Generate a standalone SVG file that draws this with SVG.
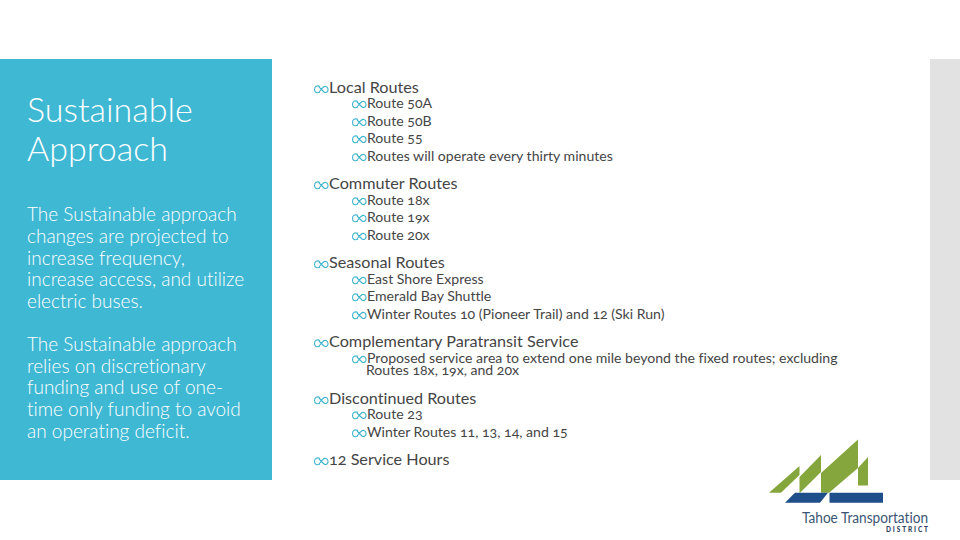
<svg xmlns="http://www.w3.org/2000/svg" width="960" height="540" viewBox="0 0 960 540">
<style>
text{font-family:"Lato","Open Sans","Liberation Sans",sans-serif;font-feature-settings:"onum";font-variant-ligatures:none}
.side{fill:#fff;font-size:19px;font-weight:300}
.title{fill:#fff;font-size:34px;font-weight:300}
.l1{fill:#454545;font-size:16.200px}
.l2{fill:#454545;font-size:14.100px}
.b{fill:none;stroke:#3fb4cf;stroke-width:1.100}
</style>
<defs><g id="bul"><path class="b" d="M6 1.500C3 0 .5 1.500.5 4.500S3 8.500 6 7M5 2L10 7C12 8.500 14.500 6.500 14 4C13.500 1.500 11 .5 9 2.500L5 7"/></g></defs>
<rect width="960" height="540" fill="#fff"/>
<rect id="panel" x="0" y="59" width="272" height="421" fill="#3fb8d4"/>
<rect id="edge" x="930" y="59" width="30" height="421" fill="#e2e2e2"/>
<g id="left">
<text class="title" x="27" y="122">Sustainable</text>
<text class="title" x="27" y="161">Approach</text>
<text class="side" x="27" y="221">The Sustainable approach</text>
<text class="side" x="27" y="243">changes are projected to</text>
<text class="side" x="27" y="265">increase frequency,</text>
<text class="side" x="27" y="286">increase access, and utilize</text>
<text class="side" x="27" y="308">electric buses.</text>
<text class="side" x="27" y="351">The Sustainable approach</text>
<text class="side" x="27" y="373">relies on discretionary</text>
<text class="side" x="27" y="394">funding and use of one-</text>
<text class="side" x="27" y="416">time only funding to avoid</text>
<text class="side" x="27" y="438">an operating deficit.</text>
</g>
<g id="list">
<use href="#bul" x="314" y="85"/><text class="l1" x="329" y="93">Local Routes</text>
<use href="#bul" x="352" y="100"/><text class="l2" x="367" y="108">Route 50A</text>
<use href="#bul" x="352" y="118"/><text class="l2" x="367" y="126">Route 50B</text>
<use href="#bul" x="352" y="135"/><text class="l2" x="367" y="143">Route 55</text>
<use href="#bul" x="352" y="153"/><text class="l2" x="367" y="161">Routes will operate every thirty minutes</text>
<use href="#bul" x="314" y="181"/><text class="l1" x="329" y="189">Commuter Routes</text>
<use href="#bul" x="352" y="197"/><text class="l2" x="367" y="205">Route 18x</text>
<use href="#bul" x="352" y="214"/><text class="l2" x="367" y="222">Route 19x</text>
<use href="#bul" x="352" y="232"/><text class="l2" x="367" y="240">Route 20x</text>
<use href="#bul" x="314" y="260"/><text class="l1" x="329" y="268">Seasonal Routes</text>
<use href="#bul" x="352" y="276"/><text class="l2" x="367" y="284">East Shore Express</text>
<use href="#bul" x="352" y="293"/><text class="l2" x="367" y="301">Emerald Bay Shuttle</text>
<use href="#bul" x="352" y="311"/><text class="l2" x="367" y="319">Winter Routes 10 (Pioneer Trail) and 12 (Ski Run)</text>
<use href="#bul" x="314" y="339"/><text class="l1" x="329" y="347">Complementary Paratransit Service</text>
<use href="#bul" x="352" y="355"/><text class="l2" x="367" y="363">Proposed service area to extend one mile beyond the fixed routes; excluding</text>
<text class="l2" x="366" y="375">Routes 18x, 19x, and 20x</text>
<use href="#bul" x="314" y="396"/><text class="l1" x="329" y="404">Discontinued Routes</text>
<use href="#bul" x="352" y="411"/><text class="l2" x="367" y="419">Route 23</text>
<use href="#bul" x="352" y="429"/><text class="l2" x="367" y="437">Winter Routes 11, 13, 14, and 15</text>
<use href="#bul" x="314" y="457"/><text class="l1" x="329" y="465">12 Service Hours</text>
</g>
<g id="logo">
<path fill="#84a63c" d="M769 492.700L799.500 466V475L781 492.700ZM799.500 492.700V477L821 455V472L800 492.700ZM821 492.700V473L858 439.500V468L829 492.700ZM858 468L868 457V485.500H858Z"/>
<path fill="#1f4f8a" d="M785 502.700L795 492.700H828L820 502.700ZM829.500 492.700H883V502.700H829.500Z"/>
<text x="802" y="523" font-size="14.500" fill="#3a5674" textLength="126" lengthAdjust="spacingAndGlyphs">Tahoe Transportation</text>
<text x="886" y="532" font-size="6.500" font-weight="900" fill="#2c4460" textLength="42" lengthAdjust="spacing">DISTRICT</text>
</g>
</svg>
